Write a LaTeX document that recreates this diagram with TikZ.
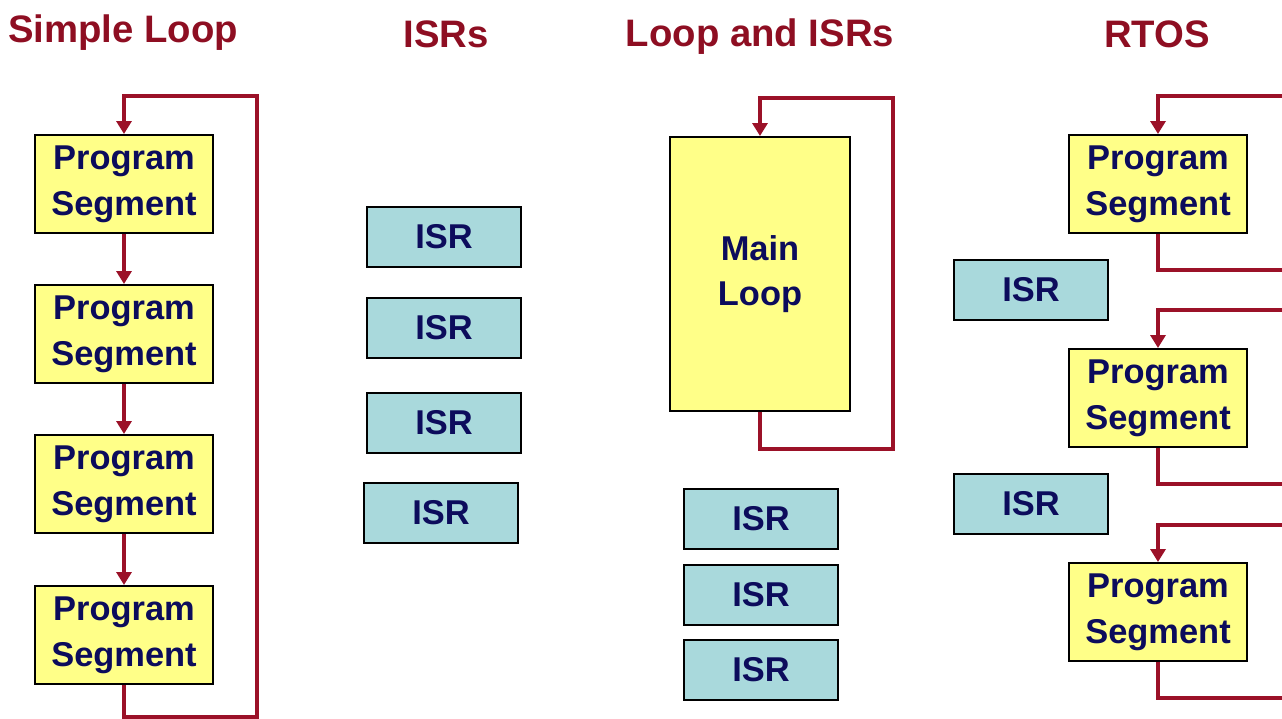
\documentclass[tikz,border=0pt]{standalone}
\usepackage{fontspec}
\setmainfont{Liberation Sans}
\usepackage{tikz}
\usetikzlibrary{arrows.meta}
\usetikzlibrary{positioning}
\definecolor{segyellow}{HTML}{FFFF88}
\definecolor{isrcyan}{HTML}{A9D9DC}
\definecolor{loopred}{HTML}{9B1128}
\definecolor{titlered}{HTML}{8E0E22}
\definecolor{textnavy}{HTML}{0C0C5C}
\tikzstyle{segment}=[draw=black,line width=0.04cm,fill=segyellow,text=textnavy,minimum width=3.56cm,minimum height=1.96cm,align=center,inner sep=0pt,font=\bfseries\fontsize{19.6pt}{26pt}\selectfont]
\tikzstyle{isr}=[draw=black,line width=0.04cm,fill=isrcyan,text=textnavy,minimum width=3.08cm,minimum height=1.2cm,inner sep=0pt,font=\bfseries\fontsize{19.6pt}{26pt}\selectfont]
\tikzstyle{title}=[text=titlered,font=\bfseries\fontsize{21.8pt}{26pt}\selectfont]

\begin{document}
\begin{tikzpicture}
		[x=0.02cm,y=-0.02cm, back/.style = {draw=loopred,line width=0.09cm,-{Triangle[width=0.3cm,length=0.26cm]}}, line/.style = {draw=loopred,line width=0.09cm}]
		\useasboundingbox (0,0) rectangle (1282,719);
		\clip (0,0) rectangle (1282,719);
		
		% headings
		\node[title] (t1) at (123,33) {Simple Loop};
		\node[title] (t2) at (446,34) {ISRs};
		\node[title] (t3) at (760,37) {Loop and ISRs};
		\node[title] (t4) at (1157,34) {RTOS};
		
		% simple loop
		\node[segment] (s1) at (124,184) {Program\\Segment};
		\node[segment] (s2) at (124,334) {Program\\Segment};
		\node[segment] (s3) at (124,484) {Program\\Segment};
		\node[segment] (s4) at (124,635) {Program\\Segment};
		\coordinate (sc) at (257,96);
		
		\draw[back] (s1) -- (s2);
		\draw[back] (s2) -- (s3);
		\draw[back] (s3) -- (s4);
		\draw[back] (s4.south) -- ++(0,32) -| (sc) -| (s1.north);
		
		% interrupts only
		\node[isr] (i1) at (444,237) {ISR};
		\node[isr] (i2) at (444,328) {ISR};
		\node[isr] (i3) at (444,423) {ISR};
		\node[isr] (i4) at (441,513) {ISR};
		
		% main loop with interrupts
		\node[segment][minimum width=3.62cm,minimum height=5.48cm] (m) at (760,274) {Main\\Loop};
		\coordinate (mc) at (893,98);
		\draw[back] (m.south) -- ++(0,37) -| (mc) -| (m.north);
		
		\node[isr] (j1) at (761,519) {ISR};
		\node[isr] (j2) at (761,595) {ISR};
		\node[isr] (j3) at (761,670) {ISR};
		
		% rtos tasks
		\node[segment] (r1) at (1158,184) {Program\\Segment};
		\node[segment] (r2) at (1158,398) {Program\\Segment};
		\node[segment] (r3) at (1158,612) {Program\\Segment};
		\node[isr] (k1) at (1031,290) {ISR};
		\node[isr] (k2) at (1031,504) {ISR};
		
		\coordinate (a1) at (1310,96);
		\coordinate (b1) at (1310,270);
		\coordinate (a2) at (1310,310);
		\coordinate (b2) at (1310,484);
		\coordinate (a3) at (1310,525);
		\coordinate (b3) at (1310,698);
		
		\draw[back] (a1) -| (r1.north);
		\draw[line] (r1.south) |- (b1);
		\draw[back] (a2) -| (r2.north);
		\draw[line] (r2.south) |- (b2);
		\draw[back] (a3) -| (r3.north);
		\draw[line] (r3.south) |- (b3);
		
		\end{tikzpicture}
\end{document}
